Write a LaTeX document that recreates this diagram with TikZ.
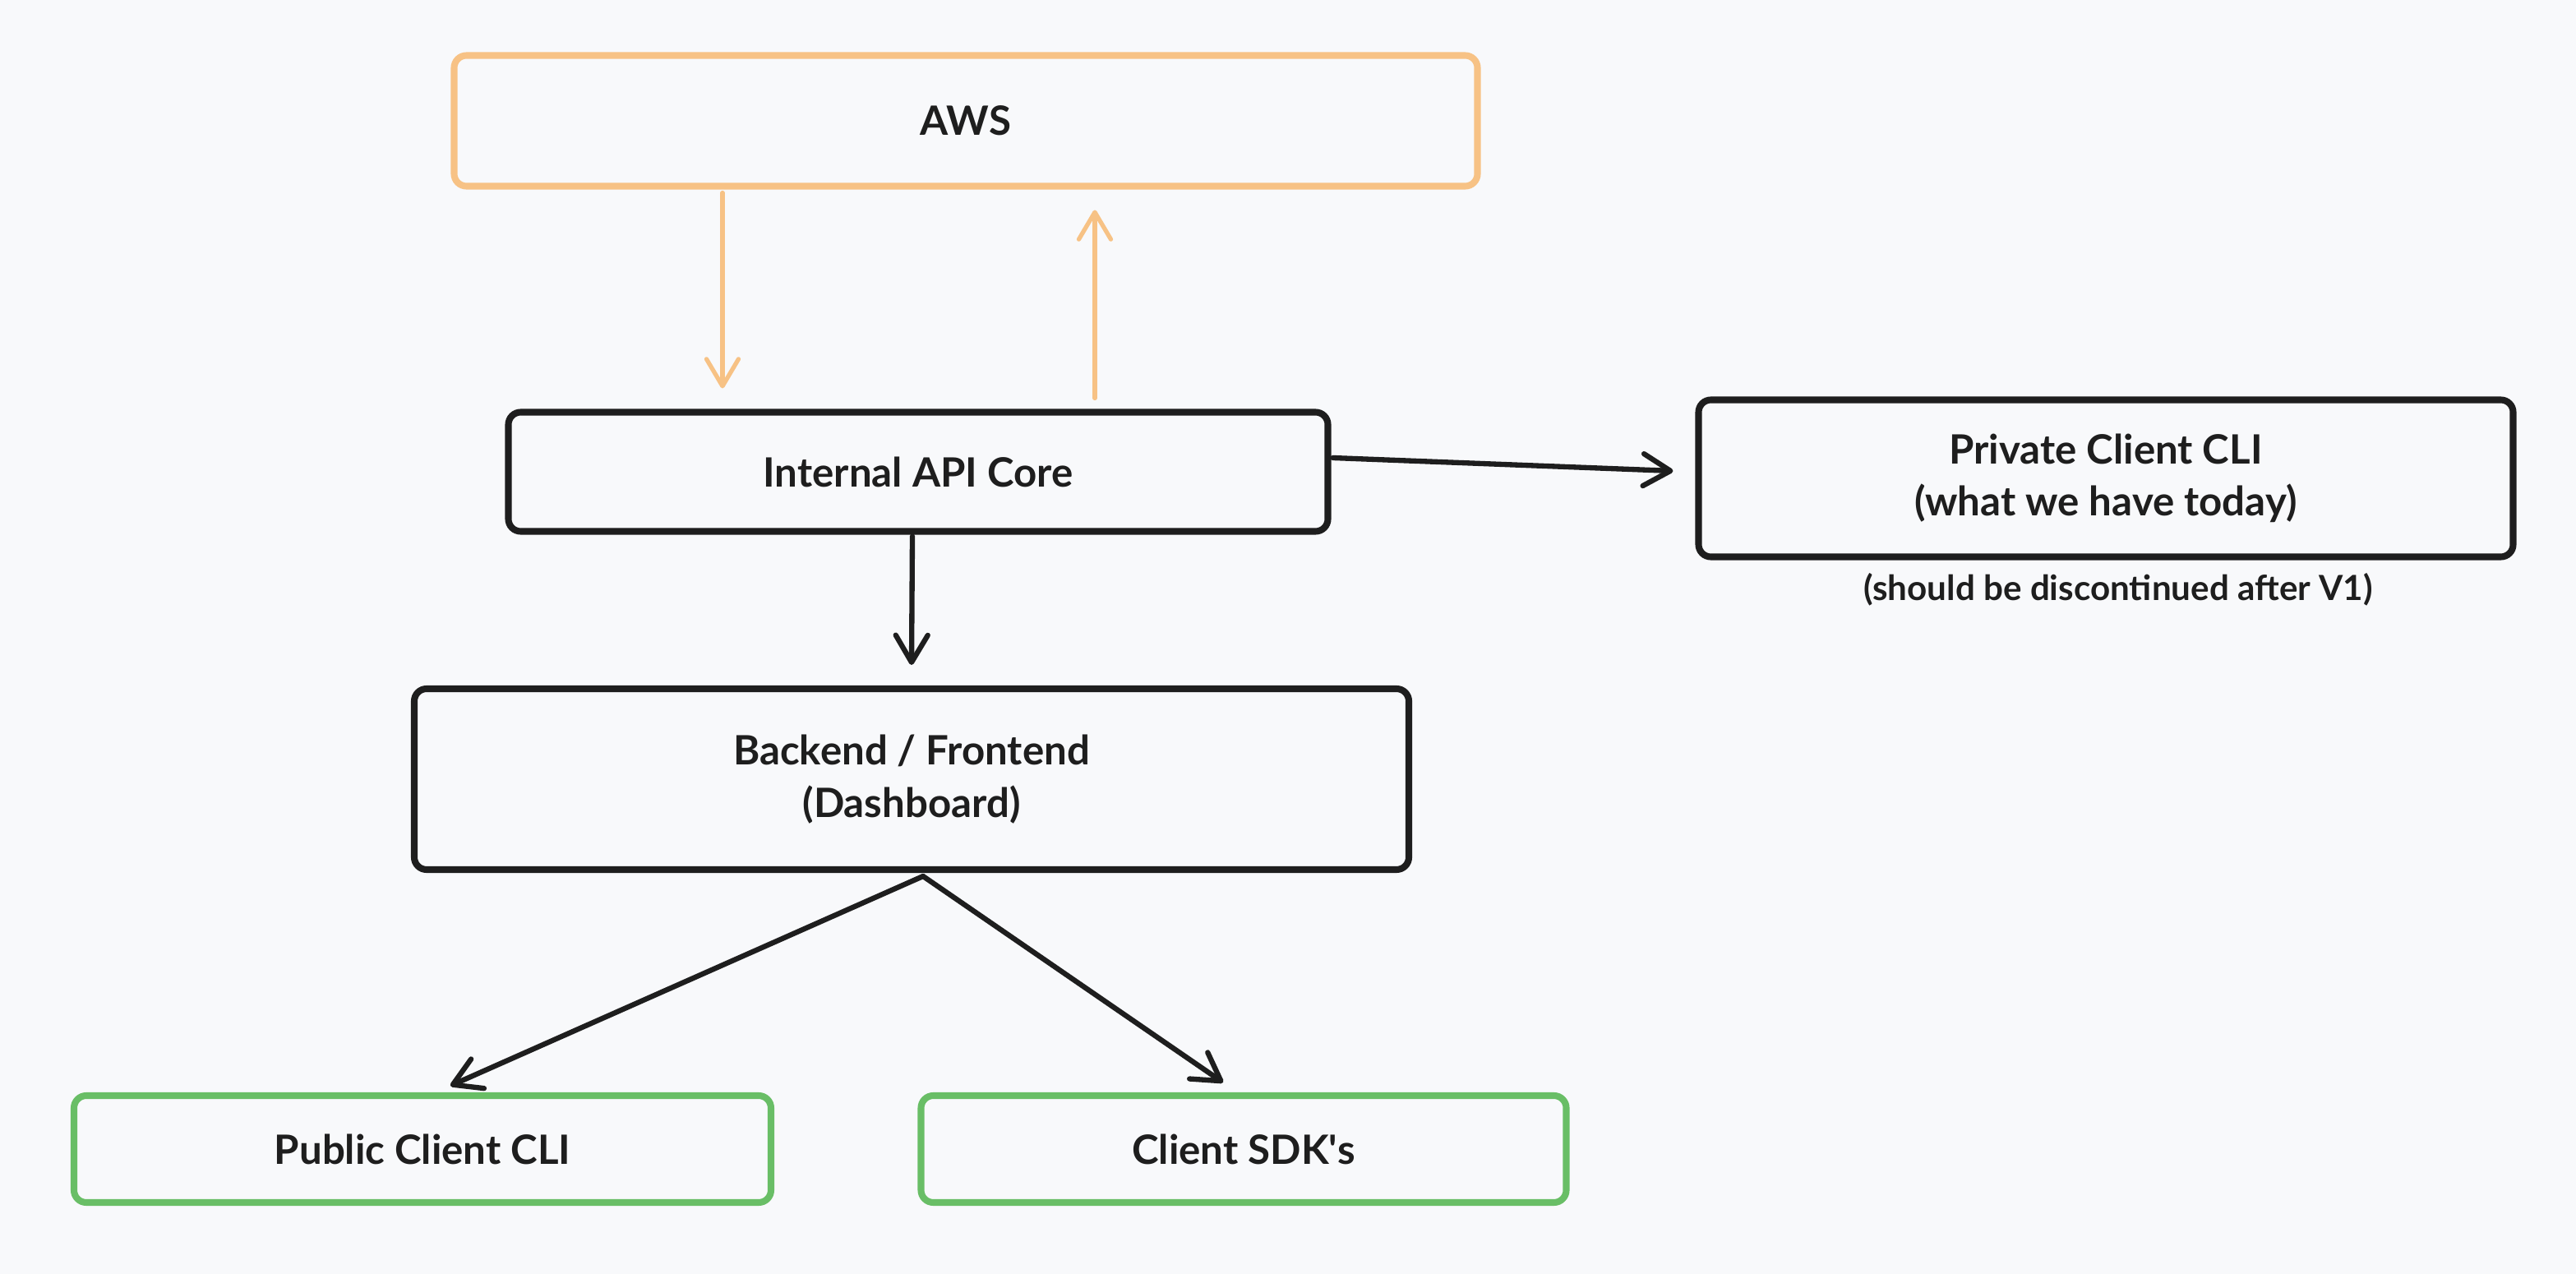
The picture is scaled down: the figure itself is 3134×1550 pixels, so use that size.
\documentclass[tikz,border=0pt]{standalone}
\usepackage{fontspec}
\setmainfont{Lato}
\usetikzlibrary{arrows.meta}
\definecolor{bgc}{HTML}{F8F9FB}
\definecolor{awsc}{HTML}{F7C285}
\definecolor{grnc}{HTML}{69BE66}
\definecolor{inkc}{HTML}{1E1E1E}
\def\u{0.02cm}
\tikzset{
  box/.style={draw=inkc, line width=4.6pt, rounded corners=0.3cm, rectangle, fill=bgc,
    align=center, text=inkc, font=\fontsize{28}{36}\selectfont\bfseries, inner sep=0pt},
  orangebox/.style={box, draw=awsc},
  greenbox/.style={box, draw=grnc},
  conn/.style={line width=3.6pt, line cap=round, line join=round,
    -{Straight Barb[length=0.66cm, width=0.78cm, line cap=round, line join=round]}},
  blackconn/.style={conn, draw=inkc},
  orangeconn/.style={conn, draw=awsc, line width=3pt},
  captiontext/.style={text=inkc, font=\fontsize{24}{28}\selectfont\bfseries, inner sep=0pt}
}
\begin{document}
\begin{tikzpicture}[x=0.02cm, y=-0.02cm]
\fill[bgc] (0,0) rectangle (3134,1550);
\useasboundingbox (0,0) rectangle (3134,1550);

\node[orangebox, minimum width=1245*\u, minimum height=159*\u] (aws) at (1175,147) {AWS};
\node[box, minimum width=997*\u, minimum height=145*\u] (api) at (1117,574) {Internal API Core};
\node[box, minimum width=991*\u, minimum height=191*\u] (priv) at (2562,582) {Private Client CLI\\(what we have today)};
\node[captiontext] (note) at (2577,717) {(should be discontinued after V1)};
\node[box, minimum width=1210*\u, minimum height=220*\u] (back) at (1109,948) {Backend / Frontend\\(Dashboard)};
\node[greenbox, minimum width=848*\u, minimum height=130*\u] (pub) at (514,1398) {Public Client CLI};
\node[greenbox, minimum width=785*\u, minimum height=130*\u] (sdk) at (1513,1398) {Client SDK\textquotesingle s};

\draw[orangeconn] ([xshift=-296*\u, yshift=-4*\u]aws.south) -- ([xshift=-238*\u, yshift=25*\u]api.north);
\draw[orangeconn] ([xshift=215*\u, yshift=13*\u]api.north) -- ([xshift=157*\u, yshift=-25*\u]aws.south);
\draw[blackconn] ([xshift=2*\u, yshift=17*\u]api.east) -- ([xshift=-27*\u, yshift=9*\u]priv.west);
\draw[blackconn] ([xshift=-7*\u, yshift=-2*\u]api.south) -- ([yshift=25*\u]back.north);
\draw[blackconn] ([xshift=14*\u, yshift=-4*\u]back.south) -- ([xshift=34*\u, yshift=8*\u]pub.north);
\draw[blackconn] ([xshift=14*\u, yshift=-4*\u]back.south) -- ([xshift=-25*\u, yshift=12*\u]sdk.north);
\end{tikzpicture}
\end{document}
